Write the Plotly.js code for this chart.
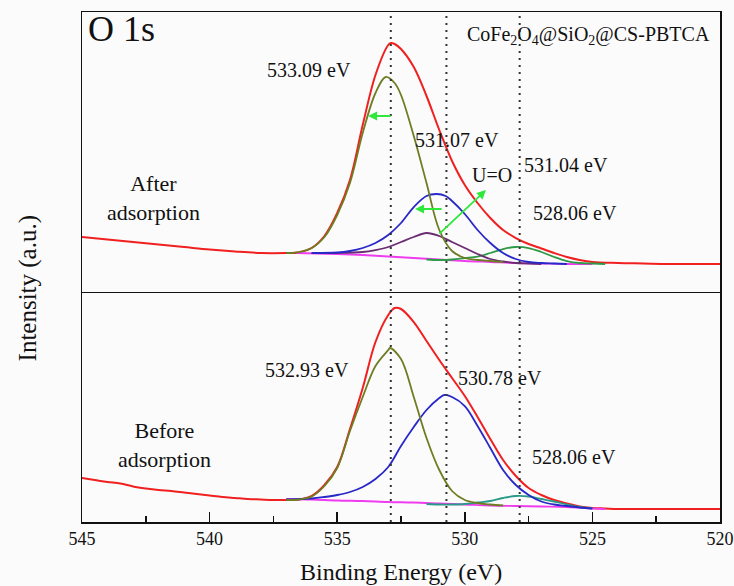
<!DOCTYPE html>
<html>
<head>
<meta charset="utf-8">
<script src="https://cdn.plot.ly/plotly-3.0.1.min.js"></script>
<style>html,body{margin:0;padding:0;background:#fbfbfb;}#chart{width:734px;height:586px;}</style>
</head>
<body>
<div id="chart"></div>
<script>
// ---------- After adsorption (top panel) ----------
const afterEnvE = [545,544,543,542,541,540,539,538,537,536.5,536,535.5,535,534.5,534,533.5,533,532.9,532.75,532.5,532,531.5,531,530.5,530,529.5,529,528.5,528,527.5,527,526.5,526,525.5,525,524,523,522,521,520];
const afterEnvI = [56,53.5,51,48.5,46,43.5,41.5,40,40,40.5,45,57,80,113,168,218,248,250,249,244,226,197,163,132,108,90,75,63,55,49,44.5,40,36,33,31,30,29.5,29,29,29];

const afterP1E = [537,536.5,536,535.5,535,534.5,534,533.5,533.1,532.75,532.5,532,531.5,531,530.5,530,529.5,529,528.5];
const afterP1I = [40,41,45,56,78,110,160,200,216,210,198,157,110,63,42,35,33,32,31];

const afterP2E = [536,535,534.5,534,533.5,533,532.5,532,531.5,531.1,530.75,530.5,530,529.5,529,528.5,528,527.5,527,526.5,526];
const afterP2I = [40,40.5,42,45,50,58,70,86,97,99,97,92,79,63,50,40,34,31,30,29.5,29];

const afterP3E = [536,535,534,533.5,533,532.5,532,531.5,531,530.5,530,529.5,529,528.5,528,527.5,527];
const afterP3I = [40,40,41,43,46,51,56,60,57,51,45,39,34,31.5,30,29.5,29];

const afterP4E = [531.5,531,530.5,530,529.5,529,528.5,528,527.5,527,526.5,526,525.5,525,524.5];
const afterP4I = [33.5,33,33.5,35,36.5,40,44,46,45,41,36,32,30,29.5,29];

const afterBgE = [536.6,535,534,533,532,531,530,529,528,527,526,525];
const afterBgI = [40,39,38,36.5,35,33.5,32,31,30,29.5,29,29];

// ---------- Before adsorption (bottom panel) ----------
const beforeEnvE = [545,544.5,544,543.5,543,542.5,542,541.5,541,540.5,540,539.5,539,538.5,538,537.5,537,536.5,536,535.5,535,534.5,534,533.5,533,532.75,532.5,532,531.5,531,530.5,530,529.5,529,528.5,528,527.5,527,526.5,526,525.5,525,524.5,524,523,522,521,520];
const beforeEnvI = [44,42,40,38.5,35.5,33.5,32,31,29.5,28,26.5,25,24,23,22.5,22,22,22.5,26,37,55,93,134,180,207,214,213,200,181,162,144,126,105,83,62,46,34,27,22,18.5,15.5,14,13.5,13,13,13,13,13];

const beforeP1E = [537,536.5,536,535.5,535,534.5,534,533.5,533,532.93,532.5,532,531.5,531,530.5,530,529.5,529,528.5];
const beforeP1I = [22,22.5,25.5,36,54,91,125,156,172,174,163,125,84,52,31,22,19,17.5,16.5];

const beforeP2E = [537,536,535.5,535,534.5,534,533.5,533,532.5,532,531.5,531,530.8,530.5,530,529.5,529,528.5,528,527.5,527,526.5,526,525.5,525];
const beforeP2I = [22.5,23.5,25,27,30,35,43,55,76,95,112,124,127,125,116,96,74,52,37,27,20.5,17.5,16,14.5,13.5];

const beforeP3E = [531.5,531,530.5,530,529.5,529,528.5,528,527.5,527,526.5,526,525.5,525];
const beforeP3I = [18,17.5,17.5,18,19.5,21,24,26,25.5,23,20.5,17.5,15,13.5];

const beforeBgE = [537,536,535,534,533,532,531,530,529,528,527,526,525,524.5];
const beforeBgI = [23,22.5,21.5,21,20,19.5,18.5,17.5,16.5,16,15.5,15,13.5,13];

// reference peak positions (dotted lines)
const refLines = [532.9, 530.72, 527.85];
const tickVals = [545,540,535,530,525,520];
const tickText = ['545','540','535','530','525','520'];

const SERIF = 'Liberation Serif, Times New Roman, serif';
const RED = '#f02020', OLIVE = '#6e7d22', BLUE = '#2828c8', PURPLE = '#6a2c72', GREEN = '#2e9a48', TEAL = '#2a9a88', MAG = '#ee3cee';

function tr(x, y, color, top, w) {
  return {x: x, y: y, type: 'scatter', mode: 'lines',
    line: {color: color, width: w || 1.8, shape: 'spline', smoothing: 1},
    xaxis: top ? 'x2' : 'x', yaxis: top ? 'y2' : 'y', hoverinfo: 'skip', showlegend: false};
}

const data = [
  tr(afterEnvE, afterEnvI, RED, true, 2),
  tr(afterBgE, afterBgI, MAG, true),
  tr(afterP4E, afterP4I, GREEN, true),
  tr(afterP3E, afterP3I, PURPLE, true),
  tr(afterP2E, afterP2I, BLUE, true),
  tr(afterP1E, afterP1I, OLIVE, true),
  tr(beforeEnvE, beforeEnvI, RED, false, 2),
  tr(beforeBgE, beforeBgI, MAG, false),
  tr(beforeP3E, beforeP3I, TEAL, false),
  tr(beforeP2E, beforeP2I, BLUE, false),
  tr(beforeP1E, beforeP1I, OLIVE, false)
];

const shapes = refLines.map(e => ({type: 'line', xref: 'x', yref: 'paper', x0: e, x1: e, y0: 0, y1: 1,
  line: {color: '#333', width: 2, dash: '2px,5px'}, layer: 'above'}));

function lab(text, x, y, top, size) {
  return {text: text, x: x, y: y, xref: top ? 'x2' : 'x', yref: top ? 'y2' : 'y', showarrow: false,
    font: {family: SERIF, size: size || 20, color: '#111'}, xanchor: 'center', yanchor: 'middle'};
}
function arrow(x0, y0, x1, y1) {
  return {x: x1, y: y1, ax: x0, ay: y0, xref: 'x2', yref: 'y2', axref: 'x2', ayref: 'y2', text: '',
    showarrow: true, arrowhead: 2, arrowsize: 1, arrowwidth: 1.8, arrowcolor: '#2fe83a'};
}

const annotations = [
  lab('O 1s', 543.45, 264, true, 36),
  lab('CoFe<sub>2</sub>O<sub>4</sub>@SiO<sub>2</sub>@CS-PBTCA', 525.17, 258, true, 20),
  lab('533.09 eV', 536.1, 223, true),
  lab('531.07 eV', 530.31, 153, true),
  lab('U=O', 528.93, 118, true),
  lab('531.04 eV', 526.03, 128, true),
  lab('528.06 eV', 525.68, 80, true),
  lab('After<br>adsorption', 542.18, 95, true, 22),
  lab('532.93 eV', 536.18, 152, false),
  lab('530.78 eV', 528.62, 144, false),
  lab('528.06 eV', 525.72, 65, false),
  lab('Before<br>adsorption', 541.75, 77, false, 22),
  arrow(532.85, 177, 533.79, 177),
  arrow(530.85, 84, 531.95, 84),
  arrow(531.05, 58, 529.17, 103),
  {text: 'Binding Energy (eV)', xref: 'paper', yref: 'paper', x: 0.5, y: -0.098, showarrow: false,
   xanchor: 'center', yanchor: 'middle', font: {family: SERIF, size: 24, color: '#111'}},
  {text: 'Intensity (a.u.)', xref: 'paper', yref: 'paper', x: -0.0846, y: 0.458, showarrow: false,
   textangle: -90, xanchor: 'center', yanchor: 'middle', font: {family: SERIF, size: 25, color: '#111'}}
];

const layout = {
  width: 734, height: 586,
  margin: {l: 82, r: 14, t: 12, b: 64},
  paper_bgcolor: '#fbfbfb', plot_bgcolor: '#fbfbfb',
  showlegend: false,
  xaxis: {domain: [0, 1], range: [545, 520], anchor: 'y', tickvals: tickVals, ticktext: tickText,
    ticks: 'inside', ticklen: 10, tickwidth: 1.5, tickcolor: '#111',
    minor: {dtick: 2.5, tick0: 520, ticks: 'inside', ticklen: 6, tickwidth: 1.5, tickcolor: '#111', showgrid: false},
    showline: true, linecolor: '#111', linewidth: 1.5, mirror: true, showgrid: false, zeroline: false,
    tickfont: {family: SERIF, size: 18, color: '#111'}},
  xaxis2: {domain: [0, 1], range: [545, 520], anchor: 'y2', matches: 'x', side: 'top', showticklabels: false, ticks: '',
    showline: true, linecolor: '#111', linewidth: 1.5, mirror: false, showgrid: false, zeroline: false},
  yaxis: {domain: [0, 0.449], range: [0, 229], anchor: 'x', showticklabels: false, ticks: '',
    showline: true, linecolor: '#111', linewidth: 1.5, mirror: true, showgrid: false, zeroline: false},
  yaxis2: {domain: [0.449, 1], range: [0, 281], anchor: 'x2', showticklabels: false, ticks: '',
    showline: true, linecolor: '#111', linewidth: 1.5, mirror: true, showgrid: false, zeroline: false},
  shapes: shapes,
  annotations: annotations
};

Plotly.newPlot('chart', data, layout, {staticPlot: true, displayModeBar: false});
</script>
</body>
</html>
